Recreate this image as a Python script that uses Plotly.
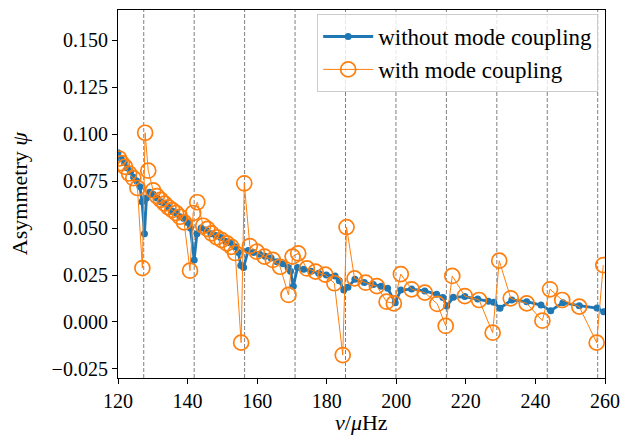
import plotly.graph_objects as go

# p-mode frequencies (vertical dashed lines)
p_modes = [127.4, 141.9, 156.4, 170.9, 185.4, 199.9, 214.4, 228.9, 243.4, 257.9]

# without mode coupling
nu_without = [120.0, 120.9, 121.8, 122.7, 123.6, 124.5, 125.4, 126.3, 126.9, 127.6,
              128.2, 129.1, 130.1, 131.2, 132.3, 133.4, 134.5, 135.6, 136.7, 137.8,
              138.9, 140.0, 140.8, 141.9, 142.7, 143.9, 145.3, 146.7, 148.1, 149.5,
              150.9, 152.3, 153.6, 154.6, 155.3, 156.1, 157.4, 159.0, 160.7, 162.3,
              164.0, 165.7, 167.4, 168.9, 169.6, 170.4, 171.6, 173.4, 175.5, 177.7,
              179.9, 182.4, 183.6, 184.9, 186.1, 188.1, 190.8, 193.4, 195.6, 197.5,
              199.7, 201.3, 204.4, 208.2, 211.6, 213.4, 214.5, 216.4, 219.7, 223.4,
              226.5, 228.0, 229.8, 233.2, 237.5, 241.6, 244.4, 247.9, 252.6, 257.7,
              259.6, 261.0]
psi_without = [0.090, 0.087, 0.085, 0.082, 0.080, 0.077, 0.075, 0.072, 0.064, 0.047,
               0.066, 0.069, 0.068, 0.066, 0.064, 0.063, 0.061, 0.059, 0.058, 0.056,
               0.055, 0.053, 0.050, 0.033, 0.047, 0.050, 0.049, 0.047, 0.046, 0.045,
               0.043, 0.042, 0.040, 0.037, 0.030, 0.029, 0.038, 0.037, 0.036, 0.035,
               0.034, 0.032, 0.031, 0.029, 0.027, 0.019, 0.029, 0.028, 0.027, 0.026,
               0.025, 0.0245, 0.022, 0.017, 0.0185, 0.0227, 0.021, 0.020, 0.019, 0.018,
               0.0103, 0.017, 0.0175, 0.0165, 0.0147, 0.013, 0.0085, 0.0131, 0.0135, 0.0122,
               0.011, 0.0105, 0.0073, 0.0117, 0.0108, 0.009, 0.006, 0.0103, 0.0087, 0.0074,
               0.0055, 0.0045]

# with mode coupling
nu_with = [120.3, 121.1, 122.0, 123.2, 124.4, 125.6, 127.0, 127.8, 128.7, 130.1,
           131.2, 132.3, 133.4, 134.5, 135.6, 136.7, 137.8, 139.0, 140.7, 141.6,
           142.8, 144.5, 145.7, 146.9, 148.4, 149.8, 151.3, 152.6, 153.7, 155.4,
           156.3, 157.9, 159.9, 162.1, 164.5, 166.6, 169.0, 170.2, 171.8, 174.3,
           176.8, 179.6, 182.2, 184.6, 185.7, 188.0, 191.2, 194.4, 197.2, 199.3,
           201.3, 204.4, 208.2, 211.8, 214.2, 216.1, 219.7, 223.8, 227.7, 229.6,
           232.9, 237.5, 242.0, 244.2, 247.7, 252.6, 257.6, 259.5]
psi_with = [0.087, 0.0845, 0.0826, 0.079, 0.0765, 0.0713, 0.0287, 0.1007, 0.0805, 0.070,
            0.067, 0.065, 0.063, 0.061, 0.0595, 0.058, 0.056, 0.053, 0.0273, 0.058,
            0.0637, 0.0512, 0.0495, 0.0472, 0.045, 0.0436, 0.0418, 0.040, 0.0367, -0.011,
            0.0738, 0.0404, 0.0374, 0.0348, 0.033, 0.0294, 0.0144, 0.0348, 0.0365, 0.0285,
            0.0268, 0.0252, 0.0206, -0.0176, 0.0505, 0.0232, 0.0209, 0.0191, 0.0108, 0.0099,
            0.0255, 0.0174, 0.0156, 0.0096, -0.0021, 0.0245, 0.0138, 0.0117, -0.0057, 0.0326,
            0.0126, 0.0099, 0.0007, 0.0174, 0.0117, 0.0082, -0.011, 0.0303]

x_ticks = [120, 140, 160, 180, 200, 220, 240, 260]
y_ticks = [-0.025, 0.0, 0.025, 0.05, 0.075, 0.1, 0.125, 0.15]

FONT = "Liberation Serif, serif"

fig = go.Figure()
fig.add_trace(go.Scatter(
    x=nu_without, y=psi_without, mode="lines+markers",
    name="without mode coupling",
    line=dict(color="#1f77b4", width=2.8),
    marker=dict(color="#1f77b4", size=7),
))
fig.add_trace(go.Scatter(
    x=nu_with, y=psi_with, mode="lines+markers",
    name="with mode coupling",
    line=dict(color="#ff7f0e", width=1),
    marker=dict(symbol="circle-open", color="#ff7f0e", size=15, line=dict(width=1.7)),
))

for p in p_modes:
    fig.add_shape(type="line", xref="x", yref="paper", x0=p, x1=p, y0=0, y1=1,
                  line=dict(color="#808080", width=1, dash="4px,2px"), layer="below")

axis_common = dict(
    showline=True, mirror=True, linecolor="black", linewidth=1.2,
    ticks="outside", ticklen=5, tickwidth=1.2, tickcolor="black",
    showgrid=False, zeroline=False, automargin=False,
    tickfont=dict(family=FONT, size=20, color="black"),
)

fig.update_layout(
    width=624, height=436,
    margin=dict(l=118, r=19, t=10, b=58, pad=0),
    plot_bgcolor="white", paper_bgcolor="white",
    font=dict(family=FONT, size=20, color="black"),
    xaxis=dict(range=[120, 260], tickvals=x_ticks, **axis_common),
    yaxis=dict(range=[-0.0298, 0.166], tickvals=y_ticks, tickformat=".3f", **axis_common),
    legend=dict(x=0.986, y=0.989, xanchor="right", yanchor="top",
                bgcolor="rgba(255,255,255,0.8)", bordercolor="#cccccc", borderwidth=1,
                font=dict(family=FONT, size=23), itemwidth=50,
                tracegroupgap=0),
    showlegend=True,
    annotations=[
        dict(text="<i>ν</i>/<i>μ</i>Hz", xref="paper", yref="paper", x=0.5, y=-0.122,
             xanchor="center", yanchor="middle", showarrow=False,
             font=dict(family=FONT, size=22)),
        dict(text="Asymmetry <i>ψ</i>", xref="paper", yref="paper", x=-0.203, y=0.5,
             xanchor="center", yanchor="middle", textangle=-90, showarrow=False,
             font=dict(family=FONT, size=22)),
    ],
)

fig.write_html("out.html", config={"displayModeBar": False},
               post_script="document.body.style.margin='0px';document.body.style.padding='0px';")
